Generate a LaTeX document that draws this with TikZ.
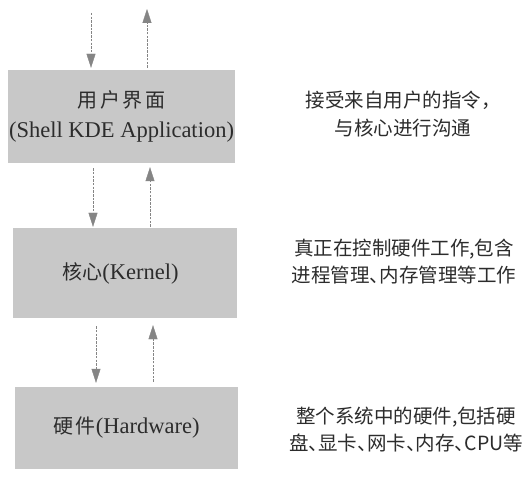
\documentclass[tikz,border=0pt]{standalone}
\usepackage{fontspec}
\setmainfont{Liberation Serif}
\newfontfamily\cjk{Noto Sans CJK SC}
\newfontfamily\cjkhalf[RawFeature=+halt]{Noto Sans CJK SC}
\newfontfamily\cjkwide[LetterSpace=12]{Noto Sans CJK SC}
\usetikzlibrary{arrows.meta}
\definecolor{boxgray}{HTML}{C8C8C8}
\definecolor{ink}{HTML}{2C2C2C}
\definecolor{arrgray}{HTML}{858585}
\begin{document}
\begin{tikzpicture}[x=1pt,y=-1pt,
  layer/.style={fill=boxgray, draw=none, text=ink, align=center, inner sep=0pt,
    font=\fontsize{22.5}{30}\selectfont},
  note/.style={text=ink, align=center, inner sep=0pt,
    font=\cjkhalf\fontsize{19.5}{27.5}\selectfont},
  arr/.style={draw=arrgray, line width=0.7pt, dash pattern=on 2.5pt off 1.2pt,
    -{Triangle[width=9pt,length=14pt,color=arrgray,fill=arrgray,line width=0.4pt]}}]
\useasboundingbox[fill=white] (0,0) rectangle (524,478);
% boxes
\node[layer, minimum width=227pt, minimum height=93pt] (b1) at (121.5,116.5)
  {{\cjkwide\fontsize{20}{30}\selectfont 用户界面}\\(Shell KDE Application)};
\node[layer, minimum width=224pt, minimum height=90pt] (b2) at (124.5,273)
  {\hspace*{-8pt}{\cjk\fontsize{20}{30}\selectfont 核心}(Kernel)};
\node[layer, minimum width=223pt, minimum height=82pt] (b3) at (126.5,428)
  {{\cjkwide\fontsize{20}{30}\selectfont 硬件}(Hardware)};
% notes
\node[note, font=\cjk\fontsize{19.5}{28}\selectfont] (n1) at (403,114) {接受来自用户的指令，\\与核心进行沟通};
\node[note] (n2) at (404,261.5) {真正在控制硬件工作,包含\\进程管理、内存管理等工作};
\node[note] (n3) at (406,429.5) {整个系统中的硬件,包括硬\\盘、显卡、网卡、内存、CPU等};
% free ends at top
\coordinate (tin) at (91,13);
\coordinate (tout) at (147,9);
% arrows
\draw[arr, shorten >=2pt] (tin) -- (b1.north -| tin);
\draw[arr, shorten <=2pt] (b1.north -| tout) -- (tout);
\draw[arr, shorten <=5pt, shorten >=1pt] (b1.south -| 93,0) -- (b2.north -| 93,0);
\draw[arr, shorten <=1pt, shorten >=4pt] (b2.north -| 150,0) -- (b1.south -| 150,0);
\draw[arr, shorten <=8pt, shorten >=4pt] (b2.south -| 96,0) -- (b3.north -| 96,0);
\draw[arr, shorten <=5pt, shorten >=7pt] (b3.north -| 153,0) -- (b2.south -| 153,0);
\end{tikzpicture}
\end{document}
